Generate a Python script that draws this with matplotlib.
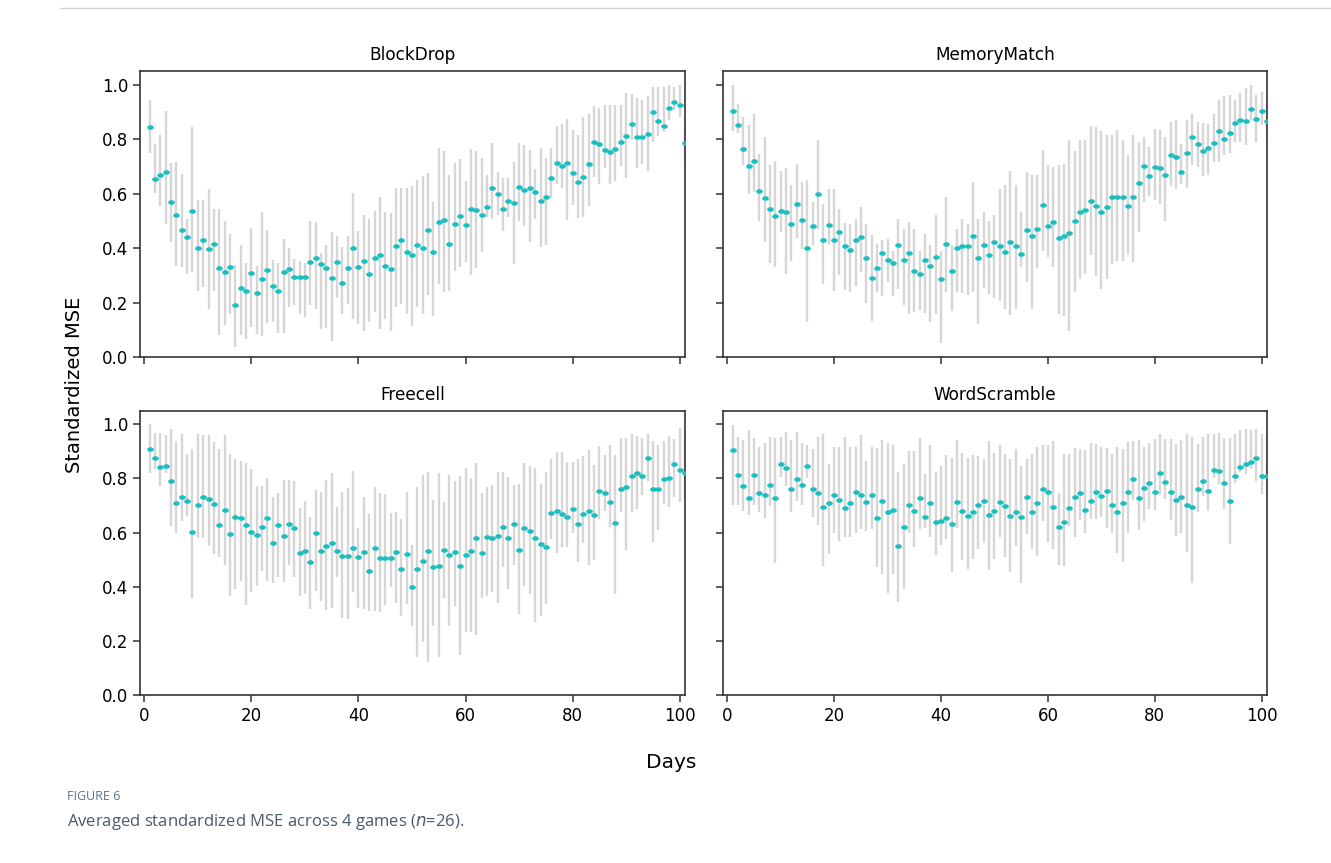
import numpy as np
import matplotlib
matplotlib.use("Agg")
import matplotlib.pyplot as plt
from matplotlib.markers import MarkerStyle
from matplotlib.transforms import Affine2D

# days 1..101, mean standardized MSE with lower / upper bounds per game
days = np.arange(1, 102)

blockdrop_mean = [
    0.846, 0.652, 0.670, 0.680, 0.568, 0.523, 0.467, 0.439, 0.536, 0.401,
    0.429, 0.397, 0.416, 0.327, 0.311, 0.331, 0.192, 0.253, 0.244, 0.309,
    0.234, 0.287, 0.318, 0.262, 0.244, 0.311, 0.322, 0.294, 0.294, 0.294,
    0.349, 0.364, 0.341, 0.327, 0.290, 0.349, 0.272, 0.327, 0.402, 0.332,
    0.351, 0.304, 0.364, 0.374, 0.336, 0.324, 0.406, 0.429, 0.387, 0.374,
    0.411, 0.401, 0.467, 0.387, 0.494, 0.504, 0.416, 0.490, 0.518, 0.485,
    0.545, 0.541, 0.521, 0.550, 0.619, 0.600, 0.545, 0.573, 0.566, 0.624,
    0.615, 0.620, 0.606, 0.572, 0.587, 0.656, 0.712, 0.702, 0.712, 0.674,
    0.641, 0.661, 0.707, 0.790, 0.781, 0.761, 0.752, 0.763, 0.791, 0.813,
    0.855, 0.809, 0.809, 0.818, 0.898, 0.868, 0.850, 0.916, 0.935, 0.924, 0.786]
blockdrop_lo = [
    0.748, 0.603, 0.553, 0.488, 0.424, 0.336, 0.330, 0.305, 0.311, 0.244,
    0.256, 0.178, 0.242, 0.080, 0.117, 0.158, 0.038, 0.080, 0.065, 0.112,
    0.084, 0.077, 0.124, 0.127, 0.090, 0.090, 0.182, 0.191, 0.158, 0.146,
    0.191, 0.176, 0.102, 0.108, 0.059, 0.217, 0.158, 0.194, 0.139, 0.121,
    0.096, 0.127, 0.164, 0.102, 0.139, 0.096, 0.182, 0.194, 0.158, 0.114,
    0.182, 0.158, 0.228, 0.151, 0.268, 0.237, 0.244, 0.314, 0.330, 0.348,
    0.301, 0.326, 0.385, 0.514, 0.508, 0.523, 0.461, 0.514, 0.340, 0.498,
    0.480, 0.424, 0.508, 0.403, 0.410, 0.582, 0.637, 0.619, 0.502, 0.557,
    0.510, 0.514, 0.555, 0.662, 0.634, 0.693, 0.637, 0.645, 0.700, 0.656,
    0.797, 0.693, 0.707, 0.683, 0.789, 0.810, 0.826, 0.871, 0.907, 0.880, 0.720]
blockdrop_hi = [
    0.945, 0.782, 0.815, 0.902, 0.713, 0.717, 0.672, 0.508, 0.844, 0.578,
    0.578, 0.616, 0.545, 0.542, 0.499, 0.453, 0.338, 0.410, 0.346, 0.475,
    0.336, 0.532, 0.465, 0.357, 0.346, 0.434, 0.400, 0.360, 0.351, 0.346,
    0.499, 0.495, 0.382, 0.412, 0.459, 0.444, 0.403, 0.446, 0.603, 0.462,
    0.523, 0.508, 0.535, 0.588, 0.532, 0.527, 0.619, 0.619, 0.619, 0.628,
    0.649, 0.664, 0.674, 0.569, 0.766, 0.758, 0.670, 0.711, 0.726, 0.646,
    0.764, 0.755, 0.730, 0.668, 0.785, 0.678, 0.656, 0.656, 0.717, 0.787,
    0.778, 0.760, 0.692, 0.769, 0.730, 0.766, 0.850, 0.855, 0.873, 0.834,
    0.815, 0.883, 0.892, 0.920, 0.916, 0.924, 0.926, 0.926, 0.926, 0.969,
    0.966, 0.951, 0.945, 0.957, 0.990, 0.990, 0.990, 1.000, 0.993, 1.000, 0.850]

memory_mean = [
    0.902, 0.851, 0.763, 0.702, 0.721, 0.610, 0.582, 0.545, 0.518, 0.536,
    0.532, 0.490, 0.560, 0.504, 0.401, 0.480, 0.597, 0.429, 0.485, 0.429,
    0.458, 0.406, 0.392, 0.429, 0.439, 0.364, 0.290, 0.327, 0.383, 0.356,
    0.346, 0.410, 0.356, 0.383, 0.317, 0.304, 0.356, 0.336, 0.369, 0.285,
    0.414, 0.317, 0.401, 0.406, 0.406, 0.443, 0.364, 0.411, 0.374, 0.424,
    0.406, 0.387, 0.424, 0.406, 0.378, 0.466, 0.443, 0.471, 0.558, 0.480,
    0.494, 0.438, 0.443, 0.456, 0.499, 0.531, 0.540, 0.572, 0.555, 0.531,
    0.550, 0.587, 0.587, 0.587, 0.555, 0.587, 0.638, 0.702, 0.665, 0.699,
    0.693, 0.670, 0.741, 0.736, 0.680, 0.749, 0.806, 0.781, 0.758, 0.769,
    0.787, 0.828, 0.801, 0.824, 0.861, 0.871, 0.865, 0.910, 0.875, 0.902, 0.865]
memory_lo = [
    0.830, 0.822, 0.705, 0.600, 0.606, 0.498, 0.422, 0.346, 0.330, 0.459,
    0.303, 0.354, 0.437, 0.397, 0.127, 0.412, 0.471, 0.268, 0.410, 0.244,
    0.301, 0.247, 0.237, 0.259, 0.311, 0.200, 0.133, 0.237, 0.225, 0.274,
    0.225, 0.250, 0.191, 0.158, 0.164, 0.173, 0.161, 0.129, 0.158, 0.053,
    0.237, 0.170, 0.237, 0.234, 0.228, 0.237, 0.121, 0.252, 0.231, 0.215,
    0.207, 0.176, 0.154, 0.178, 0.330, 0.274, 0.176, 0.325, 0.391, 0.366,
    0.330, 0.158, 0.152, 0.096, 0.240, 0.288, 0.306, 0.373, 0.299, 0.250,
    0.287, 0.341, 0.354, 0.354, 0.373, 0.348, 0.459, 0.569, 0.592, 0.576,
    0.563, 0.498, 0.628, 0.616, 0.637, 0.620, 0.705, 0.699, 0.665, 0.670,
    0.717, 0.717, 0.742, 0.748, 0.791, 0.789, 0.779, 0.871, 0.789, 0.852, 0.800]
memory_hi = [
    1.000, 0.930, 0.883, 0.852, 0.893, 0.744, 0.806, 0.705, 0.721, 0.683,
    0.695, 0.631, 0.708, 0.643, 0.649, 0.569, 0.797, 0.563, 0.616, 0.616,
    0.545, 0.493, 0.490, 0.508, 0.551, 0.490, 0.449, 0.416, 0.428, 0.432,
    0.391, 0.506, 0.471, 0.496, 0.471, 0.391, 0.453, 0.410, 0.520, 0.391,
    0.588, 0.410, 0.471, 0.506, 0.490, 0.643, 0.506, 0.532, 0.499, 0.523,
    0.616, 0.631, 0.683, 0.631, 0.532, 0.680, 0.670, 0.670, 0.760, 0.705,
    0.699, 0.705, 0.707, 0.797, 0.756, 0.797, 0.797, 0.849, 0.846, 0.828,
    0.815, 0.815, 0.834, 0.797, 0.742, 0.815, 0.791, 0.806, 0.772, 0.838,
    0.834, 0.806, 0.862, 0.871, 0.782, 0.871, 0.893, 0.862, 0.859, 0.855,
    0.892, 0.945, 0.957, 0.963, 0.945, 0.969, 0.988, 1.000, 0.963, 0.973, 0.950]

freecell_mean = [
    0.908, 0.875, 0.842, 0.846, 0.792, 0.708, 0.733, 0.717, 0.603, 0.700,
    0.733, 0.723, 0.705, 0.627, 0.685, 0.594, 0.658, 0.653, 0.626, 0.603,
    0.592, 0.621, 0.653, 0.561, 0.626, 0.588, 0.631, 0.615, 0.524, 0.532,
    0.491, 0.598, 0.532, 0.551, 0.561, 0.532, 0.514, 0.514, 0.542, 0.510,
    0.529, 0.459, 0.542, 0.506, 0.506, 0.506, 0.529, 0.467, 0.519, 0.398,
    0.467, 0.496, 0.532, 0.471, 0.477, 0.536, 0.518, 0.529, 0.477, 0.518,
    0.532, 0.578, 0.524, 0.582, 0.578, 0.588, 0.620, 0.578, 0.630, 0.536,
    0.616, 0.606, 0.579, 0.556, 0.546, 0.672, 0.679, 0.668, 0.658, 0.686,
    0.630, 0.668, 0.681, 0.663, 0.755, 0.745, 0.712, 0.635, 0.760, 0.770,
    0.810, 0.820, 0.810, 0.876, 0.760, 0.760, 0.797, 0.802, 0.852, 0.830, 0.821]
freecell_lo = [
    0.821, 0.834, 0.772, 0.821, 0.625, 0.600, 0.643, 0.662, 0.357, 0.581,
    0.581, 0.550, 0.520, 0.508, 0.480, 0.364, 0.393, 0.421, 0.332, 0.379,
    0.403, 0.459, 0.422, 0.415, 0.437, 0.416, 0.480, 0.434, 0.364, 0.373,
    0.317, 0.385, 0.348, 0.315, 0.323, 0.434, 0.286, 0.280, 0.381, 0.323,
    0.317, 0.311, 0.311, 0.307, 0.332, 0.397, 0.341, 0.293, 0.336, 0.256,
    0.142, 0.194, 0.123, 0.253, 0.142, 0.357, 0.253, 0.330, 0.148, 0.231,
    0.231, 0.221, 0.357, 0.367, 0.379, 0.341, 0.474, 0.391, 0.480, 0.299,
    0.403, 0.373, 0.270, 0.291, 0.336, 0.576, 0.526, 0.545, 0.545, 0.600,
    0.490, 0.561, 0.480, 0.499, 0.649, 0.680, 0.620, 0.373, 0.674, 0.535,
    0.674, 0.687, 0.740, 0.790, 0.566, 0.610, 0.705, 0.693, 0.730, 0.713, 0.720]
freecell_hi = [
    1.000, 0.969, 0.969, 0.959, 0.981, 0.938, 0.963, 0.889, 0.908, 0.963,
    0.959, 0.959, 0.935, 0.908, 0.959, 0.889, 0.871, 0.865, 0.858, 0.834,
    0.772, 0.772, 0.803, 0.733, 0.745, 0.795, 0.795, 0.791, 0.692, 0.717,
    0.658, 0.758, 0.750, 0.795, 0.819, 0.696, 0.750, 0.766, 0.828, 0.618,
    0.733, 0.668, 0.770, 0.745, 0.741, 0.672, 0.677, 0.649, 0.750, 0.553,
    0.770, 0.812, 0.824, 0.721, 0.819, 0.713, 0.812, 0.791, 0.807, 0.840,
    0.803, 0.856, 0.747, 0.768, 0.775, 0.824, 0.822, 0.805, 0.775, 0.779,
    0.856, 0.844, 0.840, 0.779, 0.824, 0.871, 0.898, 0.898, 0.861, 0.861,
    0.873, 0.882, 0.904, 0.850, 0.920, 0.886, 0.922, 0.886, 0.951, 0.951,
    0.963, 0.955, 0.951, 0.965, 0.938, 0.922, 0.938, 0.955, 0.945, 0.987, 0.960]

word_mean = [
    0.903, 0.814, 0.772, 0.727, 0.814, 0.745, 0.740, 0.777, 0.727, 0.852,
    0.838, 0.759, 0.797, 0.777, 0.847, 0.759, 0.745, 0.695, 0.708, 0.740,
    0.722, 0.690, 0.708, 0.750, 0.740, 0.712, 0.740, 0.652, 0.717, 0.675,
    0.685, 0.551, 0.620, 0.703, 0.680, 0.727, 0.657, 0.708, 0.638, 0.643,
    0.652, 0.633, 0.713, 0.680, 0.662, 0.675, 0.700, 0.717, 0.664, 0.680,
    0.713, 0.698, 0.662, 0.675, 0.657, 0.732, 0.675, 0.708, 0.760, 0.750,
    0.695, 0.620, 0.638, 0.690, 0.732, 0.745, 0.685, 0.717, 0.750, 0.735,
    0.755, 0.703, 0.675, 0.708, 0.750, 0.797, 0.727, 0.764, 0.782, 0.750,
    0.820, 0.787, 0.750, 0.722, 0.733, 0.700, 0.695, 0.760, 0.792, 0.755,
    0.830, 0.826, 0.782, 0.717, 0.810, 0.842, 0.852, 0.861, 0.876, 0.808, 0.808]
word_lo = [
    0.701, 0.701, 0.680, 0.665, 0.702, 0.674, 0.652, 0.699, 0.486, 0.806,
    0.773, 0.674, 0.717, 0.702, 0.803, 0.656, 0.627, 0.475, 0.520, 0.600,
    0.569, 0.585, 0.582, 0.600, 0.612, 0.606, 0.612, 0.473, 0.446, 0.378,
    0.446, 0.342, 0.391, 0.600, 0.545, 0.612, 0.618, 0.582, 0.517, 0.554,
    0.576, 0.456, 0.618, 0.499, 0.465, 0.502, 0.541, 0.563, 0.461, 0.502,
    0.582, 0.508, 0.453, 0.551, 0.415, 0.594, 0.541, 0.514, 0.643, 0.566,
    0.539, 0.480, 0.475, 0.624, 0.582, 0.646, 0.600, 0.649, 0.649, 0.656,
    0.618, 0.600, 0.524, 0.490, 0.600, 0.720, 0.610, 0.643, 0.686, 0.684,
    0.740, 0.724, 0.646, 0.588, 0.598, 0.529, 0.413, 0.676, 0.734, 0.678,
    0.803, 0.780, 0.686, 0.557, 0.782, 0.824, 0.818, 0.834, 0.791, 0.742, 0.740]
word_hi = [
    0.996, 0.954, 0.941, 0.979, 0.950, 0.917, 0.932, 0.954, 0.951, 0.954,
    0.973, 0.941, 0.973, 0.932, 0.925, 0.908, 0.954, 0.963, 0.852, 0.917,
    0.917, 0.954, 0.917, 0.917, 0.959, 0.865, 0.917, 0.913, 0.941, 0.929,
    0.925, 0.825, 0.852, 0.900, 0.900, 0.951, 0.816, 0.925, 0.822, 0.844,
    0.886, 0.877, 0.942, 0.895, 0.877, 0.886, 0.881, 0.871, 0.938, 0.895,
    0.922, 0.889, 0.871, 0.908, 0.847, 0.871, 0.889, 0.917, 0.922, 0.922,
    0.938, 0.745, 0.889, 0.889, 0.913, 0.910, 0.903, 0.932, 0.926, 0.917,
    0.913, 0.889, 0.917, 0.908, 0.935, 0.938, 0.941, 0.917, 0.932, 0.945,
    0.963, 0.945, 0.945, 0.926, 0.941, 0.963, 0.954, 0.926, 0.954, 0.963,
    0.963, 0.969, 0.951, 0.951, 0.963, 0.979, 0.981, 0.979, 0.981, 0.963, 0.960]

games = ["BlockDrop", "MemoryMatch", "Freecell", "WordScramble"]
means = [blockdrop_mean, memory_mean, freecell_mean, word_mean]
lows = [blockdrop_lo, memory_lo, freecell_lo, word_lo]
highs = [blockdrop_hi, memory_hi, freecell_hi, word_hi]

fig = plt.figure(figsize=(13.31, 8.63), dpi=100)

# axes boxes [left, bottom, width, height] in figure fractions
boxes = [
    [0.1052, 0.5863, 0.4095, 0.3314],
    [0.5432, 0.5863, 0.4087, 0.3314],
    [0.1052, 0.1947, 0.4095, 0.3294],
    [0.5432, 0.1947, 0.4087, 0.3294],
]

dot = MarkerStyle("o", transform=Affine2D().scale(1.45, 1.0))

for i, name in enumerate(games):
    ax = fig.add_axes(boxes[i])
    m = np.array(means[i])
    lo = np.array(lows[i])
    hi = np.array(highs[i])
    ax.errorbar(days, m, yerr=[m - lo, hi - m], fmt="none",
                ecolor="#d6d6d6", elinewidth=1.7, capsize=0, zorder=1)
    ax.plot(days, m, linestyle="none", marker=dot, markersize=3.3,
            color="#1bbfc0", markeredgewidth=0, zorder=3)
    ax.set_xlim(-0.8, 101)
    ax.set_ylim(0, 1.05)
    ax.set_xticks([0, 20, 40, 60, 80, 100])
    ax.set_yticks([0.0, 0.2, 0.4, 0.6, 0.8, 1.0])
    ax.set_title(name, fontsize=12.2, pad=8)
    ax.tick_params(labelsize=12, length=5, width=1.1, color="#333333")
    for s in ax.spines.values():
        s.set_linewidth(1.2)
        s.set_color("#333333")
    if i < 2:
        ax.set_xticklabels([])
    else:
        ax.set_xticklabels(["0", "20", "40", "60", "80", "100"])
    if i % 2 == 1:
        ax.set_yticklabels([])
    else:
        ax.set_yticklabels(["0.0", "0.2", "0.4", "0.6", "0.8", "1.0"])

fig.text(0.0563, 0.554, "Standardized MSE", rotation=90, fontsize=14,
         ha="center", va="center")
fig.text(0.504, 0.116, "Days", fontsize=14.5, ha="center", va="center")

# caption below the figure
fig.add_artist(plt.Line2D([0.045, 1.0], [0.991, 0.991], color="#cfd5da", linewidth=1))
fig.text(0.0503, 0.0765, "FIGURE 6", fontsize=9, color="#5b7483",
         family="Open Sans", ha="left", va="center")
fig.text(0.0503, 0.0475, "Averaged standardized MSE across 4 games ($\\it{n}$=26).",
         fontsize=12, color="#4a5a66", family="Open Sans", ha="left", va="center")

fig.savefig("out.png", dpi=100)
